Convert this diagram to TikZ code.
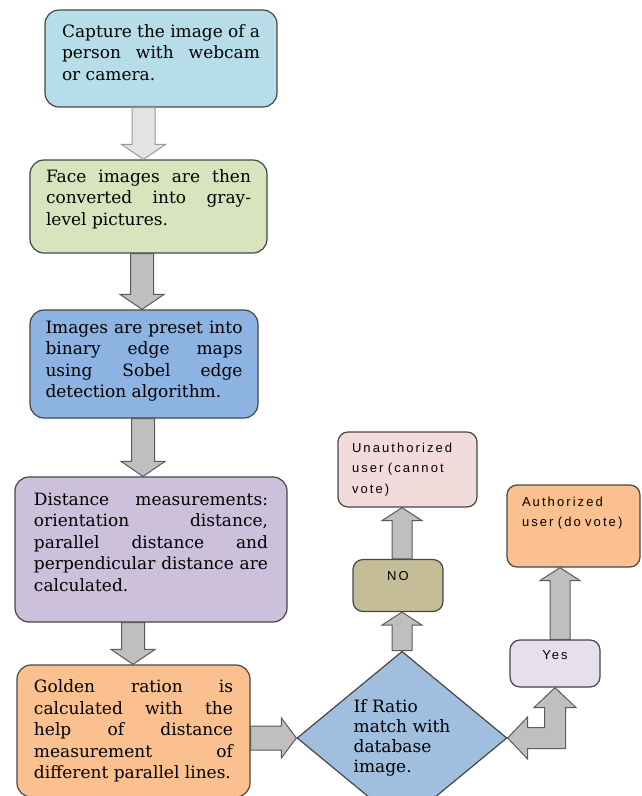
\documentclass[tikz,border=0pt]{standalone}
\usepackage{fontspec}
\setmainfont{DejaVu Serif}
\newfontfamily\labelsans[LetterSpace=16,WordSpace=2]{Liberation Sans}
\usepackage{tikz}
\usetikzlibrary{shapes.geometric,calc}

\definecolor{boxline}{RGB}{70,70,70}
\definecolor{capturefill}{RGB}{183,222,232}
\definecolor{grayfill}{RGB}{215,228,189}
\definecolor{edgefill}{RGB}{141,179,226}
\definecolor{distfill}{RGB}{204,192,218}
\definecolor{goldenfill}{RGB}{250,192,144}
\definecolor{matchfill}{RGB}{160,190,222}
\definecolor{unauthfill}{RGB}{242,220,219}
\definecolor{nofill}{RGB}{196,189,151}
\definecolor{yesfill}{RGB}{229,224,236}
\definecolor{arrowfill}{RGB}{191,191,191}
\definecolor{arrowline}{RGB}{90,90,90}

\tikzset{
  stepbox/.style={draw=boxline, line width=1.2pt, rounded corners=14pt, inner sep=0pt,
    align=justify, font=\fontsize{17}{21.5}\selectfont},
  smallbox/.style={draw=boxline, line width=1.2pt, rounded corners=10pt, inner sep=0pt,
    font=\labelsans\fontsize{13}{20.5}\selectfont},
  fatarrow/.style={draw=arrowline, fill=arrowfill, line width=1pt},
  lightarrow/.style={draw=gray!80, fill=gray!22, line width=1pt},
}

% empty depth under the last line, pushes the text up in its box
\newcommand{\textlift}[1]{\rule[-#1pt]{0pt}{#1pt}}

% big arrow going down, #2 = x of its shaft
\newcommand{\downblock}[4]{%
\draw[#1] let \p1=(#3.south), \p2=(#4.north) in
  ({#2pt-11.5pt},\y1) -- ({#2pt+11.5pt},\y1) -- ({#2pt+11.5pt},\y2+15pt) -- ({#2pt+22pt},\y2+15pt)
  -- (#2pt,\y2) -- ({#2pt-22pt},\y2+15pt) -- ({#2pt-11.5pt},\y2+15pt) -- cycle;
}
% small arrow going up
\newcommand{\upblock}[3]{%
\draw[fatarrow] let \p1=(#2.north), \p2=(#3.south) in
  ({#1pt-10pt},\y1) -- ({#1pt+10pt},\y1) -- ({#1pt+10pt},\y2-13pt) -- ({#1pt+20pt},\y2-13pt)
  -- (#1pt,\y2) -- ({#1pt-20pt},\y2-13pt) -- ({#1pt-10pt},\y2-13pt) -- cycle;
}

\begin{document}
\begin{tikzpicture}[x=1pt,y=-1pt]
\useasboundingbox (0,0) rectangle (641,796);

% left column
\node[stepbox, fill=capturefill, minimum width=232pt, minimum height=97pt, text width=198pt] (capture) at (161,58.5)
  {Capture the image of a\linebreak person with webcam\linebreak or camera.\textlift{12}};
\node[stepbox, fill=grayfill, minimum width=237pt, minimum height=93pt, text width=205pt] (gray) at (148.5,206.5)
  {Face images are then\linebreak converted into gray-\linebreak level pictures.\textlift{18}};
\node[stepbox, fill=edgefill, minimum width=228pt, minimum height=108pt, text width=197pt] (edge) at (144,364)
  {Images are preset into\linebreak binary edge maps\linebreak using Sobel edge\linebreak detection algorithm.\textlift{10}};
\node[stepbox, fill=distfill, minimum width=272pt, minimum height=145pt, text width=234pt] (dist) at (151,549.5)
  {Distance measurements:\linebreak orientation distance,\linebreak parallel distance and\linebreak perpendicular distance are\linebreak calculated.\textlift{15}};
\node[stepbox, fill=goldenfill, minimum width=233pt, minimum height=132pt, text width=199pt] (golden) at (133.5,731)
  {Golden ration is\linebreak calculated with the\linebreak help of distance\linebreak measurement of\linebreak different parallel lines.};

% decision part
\node[diamond, draw=boxline, line width=1.2pt, fill=matchfill, inner sep=0pt, minimum width=210pt, minimum height=168pt,
  align=left, font=\fontsize{17}{20}\selectfont] (match) at (402,738)
  {If Ratio\\ match with\\ database\\ image.};
\node[smallbox, fill=nofill, minimum width=90pt, minimum height=52pt, text width=70pt, align=center] (no) at (398,585.5)
  {NO\textlift{20}};
\node[smallbox, fill=unauthfill, minimum width=139pt, minimum height=75pt, text width=111pt, align=left] (unauth) at (407.5,469.5)
  {Unauthorized\\ user (cannot\\ vote)};
\node[smallbox, fill=yesfill, minimum width=90pt, minimum height=47pt, text width=70pt, align=center] (yes) at (555,663.5)
  {Yes\textlift{17}};
\node[smallbox, fill=goldenfill, minimum width=133pt, minimum height=82pt, text width=103pt, align=left] (auth) at (573.5,526)
  {Authorized\\ user (do vote)\textlift{28}};

% arrows
\downblock{lightarrow}{143.5}{capture}{gray}
\foreach \a/\b/\sx in {gray/edge/142, edge/dist/143, dist/golden/133} {
  \downblock{fatarrow}{\sx}{\a}{\b}
}
\draw[fatarrow] let \p1=(golden.east), \p2=(match.west) in
  (\x1,\y2-12pt) -- (\x1,\y2+12pt) -- (\x2-15pt,\y2+12pt) -- (\x2-15pt,\y2+20pt) -- (\x2,\y2)
  -- (\x2-15pt,\y2-20pt) -- (\x2-15pt,\y2-12pt) -- cycle;
\upblock{402}{match}{no}
\upblock{402}{no}{unauth}
\upblock{560}{yes}{auth}
\draw[fatarrow] let \p1=(match.east), \p2=(yes.south) in
  (\x1,\y1) -- (\x1+20pt,\y1+21pt) -- (\x1+20pt,\y1+10.5pt) -- (\x2-10.5pt,\y1+10.5pt)
  -- (\x2-10.5pt,\y2-20pt) -- (\x2-21pt,\y2-20pt) -- (\x2,\y2) -- (\x2+21pt,\y2-20pt)
  -- (\x2+10.5pt,\y2-20pt) -- (\x2+10.5pt,\y1-10.5pt) -- (\x1+20pt,\y1-10.5pt) -- (\x1+20pt,\y1-21pt) -- cycle;
\end{tikzpicture}
\end{document}
